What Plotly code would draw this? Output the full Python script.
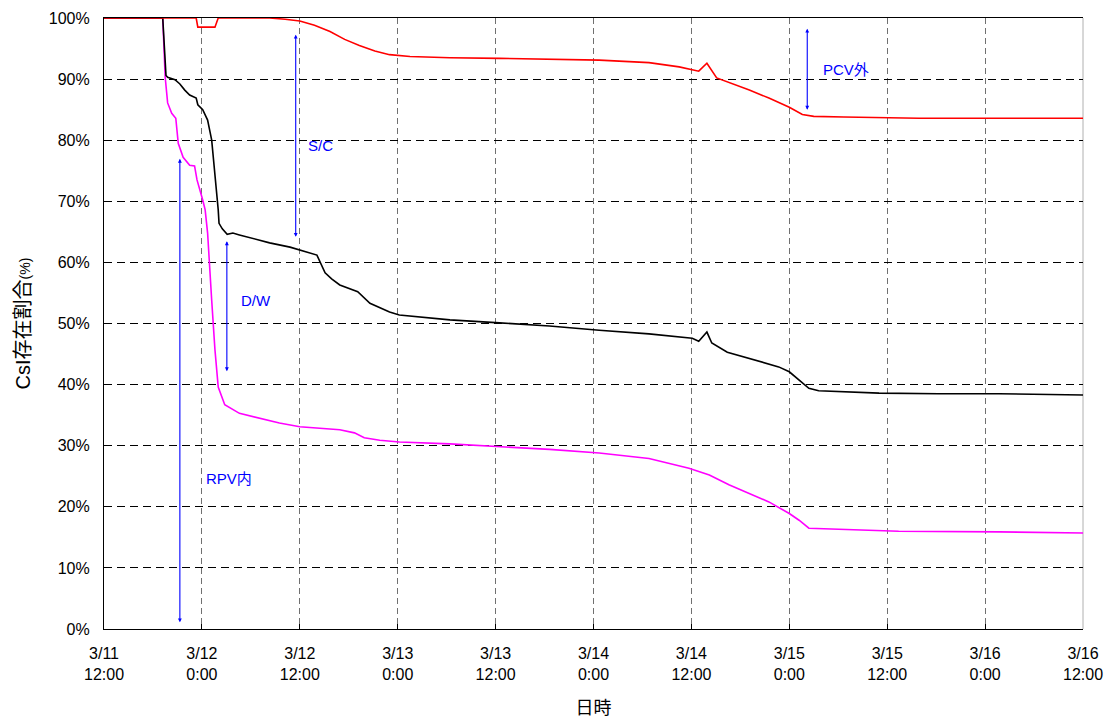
import plotly.graph_objects as go

# hours since 3/11 12:00 and share of CsI (%)
red_h = [0, 11.3, 11.5, 13.6, 14.0, 20.3, 22.2, 24.0, 25.8, 27.7, 29.5, 31.3, 33.2, 35.0, 37.5,
         42.4, 48.5, 54.6, 60.7, 66.8, 70.5, 72.9, 73.9, 75.1, 77.2, 79.1, 81.5, 84.0, 85.6,
         87.0, 90.7, 95.0, 99.9, 109.7, 120.0]
red_pct = [100, 100, 98.5, 98.5, 100, 100, 99.8, 99.5, 98.8, 97.8, 96.5, 95.5, 94.6, 94.0, 93.7,
           93.5, 93.4, 93.3, 93.1, 92.7, 92.0, 91.3, 92.6, 90.2, 89.2, 88.2, 86.9, 85.4, 84.2,
           83.9, 83.8, 83.7, 83.6, 83.6, 83.6]

black_h = [0, 7.2, 7.6, 7.8, 8.7, 9.3, 9.9, 10.5, 11.3, 11.5, 12.1, 12.7, 13.2, 13.8, 14.0,
           14.1, 14.5, 15.1, 15.8, 16.6, 17.9, 20.3, 22.8, 24.0, 26.1, 27.1, 27.9, 28.9, 31.1,
           32.6, 35.0, 36.2, 42.4, 48.5, 54.6, 60.7, 66.8, 72.1, 72.9, 73.9, 74.5, 76.4, 79.1,
           82.7, 84.0, 85.2, 86.4, 87.6, 91.3, 95.0, 102.3, 109.7, 120.0]
black_pct = [100, 100, 90.6, 90.3, 89.9, 89.2, 88.2, 87.4, 86.9, 85.8, 85.0, 83.3, 80.0, 72.3, 68.6,
             66.4, 65.5, 64.6, 64.8, 64.5, 64.0, 63.2, 62.5, 62.0, 61.2, 58.3, 57.3, 56.3, 55.2,
             53.3, 51.9, 51.4, 50.6, 50.1, 49.6, 48.9, 48.3, 47.6, 47.1, 48.6, 46.8, 45.3, 44.3,
             42.9, 42.1, 40.8, 39.4, 39.0, 38.8, 38.6, 38.5, 38.5, 38.3]

mag_h = [0, 7.2, 7.5, 7.8, 8.3, 8.8, 9.1, 9.7, 10.5, 11.1, 11.4, 11.8, 12.1, 12.4, 12.7, 13.2,
         13.6, 14.0, 14.8, 16.6, 19.1, 21.5, 24.0, 26.4, 28.9, 30.7, 31.9, 33.8, 36.2, 42.4,
         48.5, 54.6, 60.7, 66.8, 71.7, 74.2, 76.6, 79.1, 81.5, 84.0, 85.2, 86.4, 88.9, 93.8,
         97.4, 109.7, 120.0]
mag_pct = [100, 100, 90.3, 86.1, 84.4, 83.6, 79.5, 77.2, 75.9, 75.8, 73.5, 71.8, 70.2, 68.6, 64.8, 53.8,
           45.7, 39.6, 36.7, 35.3, 34.5, 33.7, 33.1, 32.9, 32.6, 32.1, 31.3, 30.9, 30.6, 30.3,
           29.9, 29.4, 28.8, 27.9, 26.3, 25.2, 23.6, 22.2, 20.8, 18.9, 17.8, 16.5, 16.4, 16.1,
           16.0, 15.9, 15.7]

tick_h = [0, 12, 24, 36, 48, 60, 72, 84, 96, 108, 120]
tick_text = ['3/11<br>12:00', '3/12<br>0:00', '3/12<br>12:00', '3/13<br>0:00', '3/13<br>12:00',
             '3/14<br>0:00', '3/14<br>12:00', '3/15<br>0:00', '3/15<br>12:00', '3/16<br>0:00',
             '3/16<br>12:00']

# region labels: name, arrow x (h), arrow top/bottom (%), label position
regions = ['RPV内', 'D/W', 'S/C', 'PCV外']
arrow_h = [9.3, 15.06, 23.5, 86.2]
arrow_top = [77.2, 63.7, 97.5, 98.5]
arrow_bot = [1.1, 42.2, 64.2, 85.0]
label_h = [12.2, 16.5, 24.8, 87.9]
label_pct = [24.7, 53.7, 79.2, 91.5]

FONT = 'Liberation Sans, Arial, Noto Sans CJK JP, sans-serif'

fig = go.Figure()
fig.add_trace(go.Scatter(x=mag_h, y=mag_pct, mode='lines', line=dict(color='#ff00ff', width=1.6)))
fig.add_trace(go.Scatter(x=black_h, y=black_pct, mode='lines', line=dict(color='black', width=1.6)))
fig.add_trace(go.Scatter(x=red_h, y=red_pct, mode='lines', line=dict(color='#ff0000', width=1.6)))

for name, ah, at, ab, lh, lp in zip(regions, arrow_h, arrow_top, arrow_bot, label_h, label_pct):
    fig.add_annotation(x=ah, y=ab, ax=ah, ay=at, axref='x', ayref='y', xref='x', yref='y',
                       text='', showarrow=True, arrowhead=2, arrowside='end+start',
                       arrowsize=0.7, arrowwidth=1.1, arrowcolor='#0000ff')
    fig.add_annotation(x=lh, y=lp, text=name, showarrow=False, xanchor='left',
                       font=dict(color='#0000ff', size=15, family=FONT))

# light right border under the last dashed gridline
fig.add_shape(type='line', xref='paper', yref='paper', x0=1, x1=1, y0=0, y1=1,
              line=dict(color='#b0b0b0', width=1), layer='below')

fig.update_layout(
    width=1107, height=718,
    margin=dict(l=104, r=24, t=18, b=89),
    plot_bgcolor='white', paper_bgcolor='white',
    showlegend=False,
    font=dict(family=FONT, size=16, color='black'),
)
fig.update_xaxes(range=[0, 120], tickvals=tick_h, ticktext=tick_text, automargin=False,
                 ticklabeloverflow='allow',
                 showgrid=True, gridcolor='#707070', griddash='6px,4px', gridwidth=1,
                 showline=True, linecolor='black', linewidth=1.2, mirror=True,
                 ticks='inside', ticklen=5, tickcolor='black', ticklabelstandoff=10,
                 title=dict(text='日時', font=dict(size=18), standoff=26))
fig.update_yaxes(range=[0, 100], dtick=10, ticksuffix='%', automargin=False,
                 showgrid=True, gridcolor='black', griddash='8px,5px', gridwidth=1,
                 showline=True, linecolor='black', linewidth=1.2,
                 ticks='inside', ticklen=5, tickcolor='black', ticklabelstandoff=10,
                 zeroline=False,
                 title=dict(text="CsI存在割合<span style='font-size:14px'>(%)</span>",
                            font=dict(size=20), standoff=12))

# page without the default body margin so the figure fills the window
fig.write_html('out.html', config={'displayModeBar': False},
               post_script="document.body.style.margin='0';"
                           "document.body.style.overflow='hidden';")
